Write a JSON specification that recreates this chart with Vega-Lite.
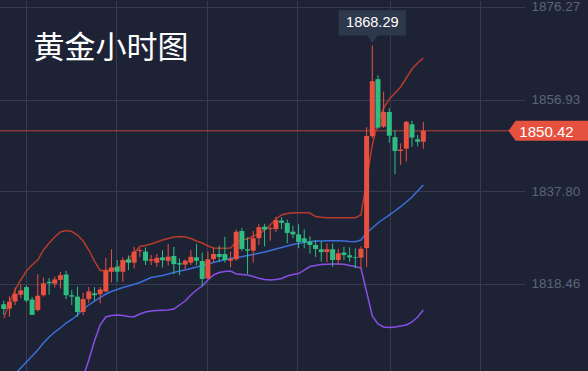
{
  "$schema": "https://vega.github.io/schema/vega-lite/v6.json",
  "width": 525,
  "height": 371,
  "autosize": {"type": "none"},
  "padding": {"left": 0, "top": 0, "right": 63, "bottom": 0},
  "background": "#1d2335",
  "config": {"view": {"stroke": null}},
  "data": {"values": [
{"i":0,"o":1814.2,"h":1815.0,"l":1812.0,"c":1813.2,"up":1811.34,"mid":1797.36,"lo":1783.37},
{"i":1,"o":1813.3,"h":1815.9,"l":1811.6,"c":1814.75,"up":1814.47,"mid":1798.40,"lo":1782.32},
{"i":2,"o":1814.8,"h":1817.75,"l":1814.05,"c":1816.4,"up":1817.19,"mid":1799.65,"lo":1782.11},
{"i":3,"o":1816.2,"h":1818.4,"l":1815.5,"c":1817.1,"up":1819.28,"mid":1800.90,"lo":1782.53},
{"i":4,"o":1817.8,"h":1818.2,"l":1814.6,"c":1815.0,"up":1821.16,"mid":1802.16,"lo":1783.16},
{"i":5,"o":1815.2,"h":1815.7,"l":1812.0,"c":1812.0,"up":1822.41,"mid":1803.41,"lo":1784.41},
{"i":6,"o":1813.0,"h":1820.5,"l":1812.7,"c":1816.0,"up":1823.45,"mid":1804.66,"lo":1785.87},
{"i":7,"o":1816.1,"h":1819.8,"l":1815.8,"c":1818.6,"up":1825.54,"mid":1806.12,"lo":1786.71},
{"i":8,"o":1818.9,"h":1819.7,"l":1816.2,"c":1818.6,"up":1827.00,"mid":1807.38,"lo":1787.75},
{"i":9,"o":1818.5,"h":1820.0,"l":1817.7,"c":1819.4,"up":1828.25,"mid":1808.42,"lo":1788.59},
{"i":10,"o":1819.3,"h":1821.0,"l":1817.5,"c":1820.3,"up":1829.30,"mid":1809.26,"lo":1789.21},
{"i":11,"o":1820.4,"h":1821.2,"l":1815.3,"c":1816.1,"up":1829.61,"mid":1810.30,"lo":1791.09},
{"i":12,"o":1816.1,"h":1817.2,"l":1814.05,"c":1815.8,"up":1829.40,"mid":1811.03,"lo":1792.55},
{"i":13,"o":1815.8,"h":1817.9,"l":1811.6,"c":1812.6,"up":1828.67,"mid":1811.97,"lo":1795.27},
{"i":14,"o":1812.6,"h":1816.6,"l":1811.95,"c":1815.3,"up":1827.42,"mid":1813.22,"lo":1799.03},
{"i":15,"o":1815.3,"h":1817.8,"l":1814.5,"c":1816.9,"up":1825.54,"mid":1814.06,"lo":1802.57},
{"i":16,"o":1816.5,"h":1817.8,"l":1815.0,"c":1816.1,"up":1823.24,"mid":1814.89,"lo":1806.54},
{"i":17,"o":1816.3,"h":1817.8,"l":1814.4,"c":1817.3,"up":1821.26,"mid":1815.62,"lo":1809.88},
{"i":18,"o":1816.85,"h":1823.9,"l":1816.8,"c":1821.3,"up":1821.26,"mid":1816.35,"lo":1811.55},
{"i":19,"o":1821.0,"h":1825.7,"l":1818.8,"c":1821.9,"up":1821.36,"mid":1816.88,"lo":1811.86},
{"i":20,"o":1822.05,"h":1823.45,"l":1818.9,"c":1821.0,"up":1821.78,"mid":1817.29,"lo":1811.97},
{"i":21,"o":1821.0,"h":1824.0,"l":1818.9,"c":1823.45,"up":1822.62,"mid":1817.71,"lo":1811.86},
{"i":22,"o":1823.6,"h":1824.4,"l":1821.35,"c":1822.9,"up":1823.66,"mid":1818.02,"lo":1811.66},
{"i":23,"o":1822.9,"h":1826.2,"l":1821.7,"c":1825.2,"up":1824.91,"mid":1818.38,"lo":1811.61},
{"i":24,"o":1825.3,"h":1825.9,"l":1824.1,"c":1825.5,"up":1826.27,"mid":1818.75,"lo":1812.18},
{"i":25,"o":1825.2,"h":1826.1,"l":1822.4,"c":1823.3,"up":1826.48,"mid":1819.28,"lo":1812.60},
{"i":26,"o":1823.3,"h":1824.5,"l":1822.4,"c":1823.6,"up":1826.79,"mid":1819.80,"lo":1812.80},
{"i":27,"o":1822.9,"h":1824.7,"l":1822.0,"c":1823.9,"up":1827.21,"mid":1820.01,"lo":1812.91},
{"i":28,"o":1824.0,"h":1825.5,"l":1821.9,"c":1823.4,"up":1827.63,"mid":1820.22,"lo":1812.95},
{"i":29,"o":1823.25,"h":1826.8,"l":1822.3,"c":1824.15,"up":1827.94,"mid":1820.53,"lo":1813.01},
{"i":30,"o":1824.3,"h":1826.2,"l":1820.5,"c":1822.6,"up":1828.25,"mid":1820.84,"lo":1813.22},
{"i":31,"o":1822.8,"h":1823.8,"l":1820.3,"c":1822.5,"up":1828.36,"mid":1821.16,"lo":1814.06},
{"i":32,"o":1822.5,"h":1823.6,"l":1821.5,"c":1823.3,"up":1828.25,"mid":1821.36,"lo":1814.89},
{"i":33,"o":1822.9,"h":1825.5,"l":1822.4,"c":1824.1,"up":1827.94,"mid":1821.68,"lo":1816.14},
{"i":34,"o":1824.0,"h":1826.8,"l":1822.4,"c":1823.3,"up":1827.42,"mid":1821.99,"lo":1817.19},
{"i":35,"o":1823.25,"h":1825.0,"l":1818.0,"c":1819.5,"up":1827.00,"mid":1822.30,"lo":1818.02},
{"i":36,"o":1819.6,"h":1825.2,"l":1819.5,"c":1823.6,"up":1826.37,"mid":1822.62,"lo":1819.28},
{"i":37,"o":1823.65,"h":1825.9,"l":1822.9,"c":1824.7,"up":1825.96,"mid":1822.93,"lo":1820.32},
{"i":38,"o":1824.7,"h":1826.5,"l":1823.0,"c":1824.1,"up":1825.89,"mid":1823.24,"lo":1820.84},
{"i":39,"o":1824.7,"h":1828.3,"l":1822.9,"c":1823.45,"up":1825.89,"mid":1823.51,"lo":1821.05},
{"i":40,"o":1823.3,"h":1825.2,"l":1821.9,"c":1823.65,"up":1825.96,"mid":1823.76,"lo":1821.16},
{"i":41,"o":1823.6,"h":1829.85,"l":1823.3,"c":1829.35,"up":1827.27,"mid":1823.97,"lo":1820.53},
{"i":42,"o":1829.5,"h":1830.1,"l":1825.3,"c":1825.75,"up":1827.63,"mid":1824.14,"lo":1820.42},
{"i":43,"o":1825.7,"h":1828.2,"l":1820.5,"c":1825.4,"up":1827.84,"mid":1824.39,"lo":1820.32},
{"i":44,"o":1825.4,"h":1829.5,"l":1822.9,"c":1828.0,"up":1828.46,"mid":1824.60,"lo":1820.01},
{"i":45,"o":1828.0,"h":1831.0,"l":1826.6,"c":1830.3,"up":1828.88,"mid":1824.85,"lo":1819.63},
{"i":46,"o":1830.4,"h":1831.0,"l":1826.3,"c":1829.8,"up":1829.71,"mid":1825.12,"lo":1819.38},
{"i":47,"o":1829.9,"h":1830.4,"l":1827.5,"c":1830.1,"up":1830.76,"mid":1825.43,"lo":1819.28},
{"i":48,"o":1829.9,"h":1832.5,"l":1829.3,"c":1831.8,"up":1832.01,"mid":1825.75,"lo":1819.38},
{"i":49,"o":1831.7,"h":1832.4,"l":1829.9,"c":1831.2,"up":1832.85,"mid":1826.06,"lo":1819.59},
{"i":50,"o":1831.2,"h":1831.9,"l":1826.95,"c":1829.1,"up":1833.16,"mid":1826.37,"lo":1820.11},
{"i":51,"o":1829.35,"h":1830.6,"l":1828.0,"c":1828.8,"up":1833.33,"mid":1826.69,"lo":1820.42},
{"i":52,"o":1828.8,"h":1830.9,"l":1825.9,"c":1827.25,"up":1833.33,"mid":1826.94,"lo":1820.63},
{"i":53,"o":1828.0,"h":1829.85,"l":1825.9,"c":1827.2,"up":1833.33,"mid":1827.11,"lo":1821.36},
{"i":54,"o":1827.3,"h":1828.4,"l":1824.8,"c":1826.6,"up":1833.26,"mid":1827.27,"lo":1822.09},
{"i":55,"o":1826.6,"h":1827.6,"l":1824.1,"c":1825.75,"up":1832.53,"mid":1827.42,"lo":1822.30},
{"i":56,"o":1825.7,"h":1827.4,"l":1823.1,"c":1825.1,"up":1832.37,"mid":1827.44,"lo":1822.51},
{"i":57,"o":1825.1,"h":1826.9,"l":1823.0,"c":1825.7,"up":1832.28,"mid":1827.48,"lo":1822.57},
{"i":58,"o":1825.7,"h":1826.9,"l":1822.05,"c":1823.45,"up":1832.28,"mid":1827.48,"lo":1822.62},
{"i":59,"o":1823.45,"h":1825.8,"l":1822.45,"c":1824.85,"up":1832.28,"mid":1827.48,"lo":1822.62},
{"i":60,"o":1825.0,"h":1826.2,"l":1823.45,"c":1824.5,"up":1832.28,"mid":1827.42,"lo":1822.57},
{"i":61,"o":1824.45,"h":1826.1,"l":1823.1,"c":1824.0,"up":1832.28,"mid":1827.31,"lo":1822.30},
{"i":62,"o":1824.05,"h":1825.9,"l":1821.7,"c":1823.9,"up":1832.28,"mid":1827.27,"lo":1822.09},
{"i":63,"o":1823.95,"h":1826.3,"l":1821.7,"c":1825.8,"up":1832.85,"mid":1827.63,"lo":1821.78},
{"i":64,"o":1825.96,"h":1851.2,"l":1822.0,"c":1849.34,"up":1840.15,"mid":1829.09,"lo":1816.77},
{"i":65,"o":1849.3,"h":1868.29,"l":1848.9,"c":1860.8,"up":1847.46,"mid":1830.13,"lo":1811.76},
{"i":66,"o":1861.2,"h":1862.0,"l":1850.8,"c":1851.1,"up":1852.26,"mid":1831.18,"lo":1810.09},
{"i":67,"o":1851.3,"h":1858.6,"l":1851.0,"c":1854.35,"up":1855.18,"mid":1832.01,"lo":1809.46},
{"i":68,"o":1854.35,"h":1855.1,"l":1847.94,"c":1849.4,"up":1857.06,"mid":1832.85,"lo":1809.36},
{"i":69,"o":1849.1,"h":1850.6,"l":1841.4,"c":1846.2,"up":1858.32,"mid":1833.68,"lo":1809.46},
{"i":70,"o":1846.2,"h":1847.8,"l":1843.3,"c":1846.5,"up":1859.57,"mid":1834.58,"lo":1809.67},
{"i":71,"o":1846.7,"h":1852.5,"l":1844.0,"c":1852.3,"up":1861.45,"mid":1835.56,"lo":1809.88},
{"i":72,"o":1851.8,"h":1852.5,"l":1847.1,"c":1849.0,"up":1863.33,"mid":1836.60,"lo":1810.51},
{"i":73,"o":1848.65,"h":1849.55,"l":1847.2,"c":1848.15,"up":1864.58,"mid":1837.86,"lo":1811.55},
{"i":74,"o":1848.15,"h":1852.3,"l":1846.7,"c":1850.42,"up":1865.62,"mid":1839.11,"lo":1813.01}
  ]},
  "layer": [
    {
      "mark": {"type": "line", "clip": true, "color": "#b63a2e", "strokeWidth": 1.5},
      "encoding": {
        "x": {"field": "i", "type": "quantitative", "scale": {"domain": [0.22, 91.05], "nice": false, "zero": false},
          "axis": {"orient": "bottom", "values": [3.85, 19.77, 35.86, 51.78, 68.04, 83.96], "grid": true, "gridColor": "#353c50", "gridWidth": 1, "labels": false, "ticks": false, "domain": false, "title": null}},
        "y": {"field": "up", "type": "quantitative", "scale": {"domain": [1800.28, 1877.73], "nice": false, "zero": false},
          "axis": {"orient": "right", "values": [1818.46, 1837.80, 1856.93, 1876.27], "format": ".2f", "grid": true, "gridColor": "#353c50", "gridWidth": 1, "domain": false, "ticks": false, "labelColor": "#5b6377", "labelFont": "Liberation Sans", "labelFontSize": 13.5, "labelPadding": 6, "labelFlush": false, "labelOverlap": false, "labelBound": false, "labelBaseline": "middle", "title": null}}
      }
    },
    {
      "mark": {"type": "line", "clip": true, "color": "#3b6fd9", "strokeWidth": 1.5},
      "encoding": {
        "x": {"field": "i", "type": "quantitative"},
        "y": {"field": "mid", "type": "quantitative"}
      }
    },
    {
      "mark": {"type": "line", "clip": true, "color": "#8a4ee6", "strokeWidth": 1.5},
      "encoding": {
        "x": {"field": "i", "type": "quantitative"},
        "y": {"field": "lo", "type": "quantitative"}
      }
    },
    {
      "data": {"values": [{"price": 1850.42}]},
      "mark": {"type": "rule", "color": "#b9413a", "strokeWidth": 1},
      "encoding": {"y": {"field": "price", "type": "quantitative"}}
    },
    {
      "mark": {"type": "rule", "strokeWidth": 1},
      "encoding": {
        "x": {"field": "i", "type": "quantitative"},
        "y": {"field": "l", "type": "quantitative"},
        "y2": {"field": "h"},
        "color": {"condition": {"test": "datum.c >= datum.o", "value": "#e9503f"}, "value": "#2fbd82"}
      }
    },
    {
      "mark": {"type": "bar", "width": 5, "minBandSize": 1},
      "encoding": {
        "x": {"field": "i", "type": "quantitative"},
        "y": {"field": "o", "type": "quantitative"},
        "y2": {"field": "c"},
        "color": {"condition": {"test": "datum.c >= datum.o", "value": "#e9503f"}, "value": "#2fbd82"}
      }
    },
    {
      "data": {"values": [{"i": 5.25, "v": 1865.62, "label": "黄金小时图"}]},
      "mark": {"type": "text", "color": "#ffffff", "font": "Noto Sans CJK SC", "fontSize": 31, "align": "left", "baseline": "alphabetic"},
      "encoding": {
        "x": {"field": "i", "type": "quantitative"},
        "y": {"field": "v", "type": "quantitative"},
        "text": {"field": "label"}
      }
    },
    {
      "data": {"values": [{"i": 65, "v": 1868.29, "label": "1868.29"}]},
      "mark": {"type": "point", "shape": "M -0.84 -0.875 L 0.84 -0.875 L 0.84 -0.24 L 0.13 -0.24 L 0 -0.05 L -0.13 -0.24 L -0.84 -0.24 Z", "size": 6400, "filled": true, "color": "#2e384c", "opacity": 1, "strokeWidth": 0},
      "encoding": {
        "x": {"field": "i", "type": "quantitative"},
        "y": {"field": "v", "type": "quantitative"}
      }
    },
    {
      "data": {"values": [{"i": 65, "v": 1868.29, "label": "1868.29"}]},
      "mark": {"type": "text", "color": "#ffffff", "font": "Liberation Sans", "fontSize": 14.5, "align": "center", "baseline": "middle", "dy": -22},
      "encoding": {
        "x": {"field": "i", "type": "quantitative"},
        "y": {"field": "v", "type": "quantitative"},
        "text": {"field": "label"}
      }
    },
    {
      "data": {"values": [{"i": 96.07, "v": 1850.42, "label": "1850.42"}]},
      "mark": {"type": "point", "shape": "M -1 0 L -0.82 -0.25 L 1 -0.25 L 1 0.25 L -0.82 0.25 Z", "size": 6400, "filled": true, "color": "#e5503f", "opacity": 1, "strokeWidth": 0, "dy": 1},
      "encoding": {
        "x": {"field": "i", "type": "quantitative"},
        "y": {"field": "v", "type": "quantitative"}
      }
    },
    {
      "data": {"values": [{"i": 95.72, "v": 1850.42, "label": "1850.42"}]},
      "mark": {"type": "text", "color": "#ffffff", "font": "Liberation Sans", "fontSize": 15, "align": "center", "baseline": "middle", "dy": 1.5},
      "encoding": {
        "x": {"field": "i", "type": "quantitative"},
        "y": {"field": "v", "type": "quantitative"},
        "text": {"field": "label"}
      }
    }
  ]
}
